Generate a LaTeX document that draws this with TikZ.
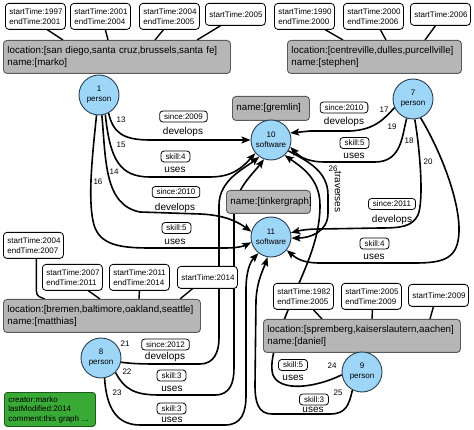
\documentclass[tikz,border=0pt]{standalone}
\usepackage{fontspec}
\setmainfont{Liberation Sans}
\usetikzlibrary{arrows.meta}
\definecolor{vblue}{RGB}{158,214,248}
\definecolor{vborder}{RGB}{40,60,80}
\definecolor{gfill}{RGB}{182,182,182}
\definecolor{gborder}{RGB}{90,90,90}
\definecolor{grfill}{RGB}{58,170,55}
\definecolor{grborder}{RGB}{30,90,30}
\pgfdeclarelayer{bg}
\pgfsetlayers{bg,main}
\begin{document}
\begin{tikzpicture}[x=1pt,y=-1pt,
 prop/.style={draw=black, line width=0.8pt, rounded corners=3.5pt, fill=white, font=\fontsize{8}{9.5}\selectfont, align=left, text width=52pt, inner xsep=4pt, inner ysep=2pt, anchor=north west},
 two/.style={minimum height=26pt},
 one/.style={minimum height=22pt},
 gbox/.style={draw=gborder, line width=0.9pt, rounded corners=3.5pt, fill=gfill, font=\fontsize{9.75}{12.5}\selectfont, align=left, inner xsep=4pt, inner ysep=2pt, anchor=north west},
 vtx/.style={circle, draw=vborder, line width=0.9pt, fill=vblue, minimum size=40pt, inner sep=0pt, align=center, font=\fontsize{8}{10}\selectfont},
 ebox/.style={draw=black, line width=0.8pt, rounded corners=3pt, fill=white, font=\fontsize{8}{9}\selectfont, inner xsep=4.5pt, inner ysep=2.5pt},
 elbl/.style={font=\fontsize{10}{12}\selectfont, inner sep=0pt},
 num/.style={font=\fontsize{8}{9}\selectfont, inner sep=0pt},
 edge/.style={line width=1.6pt, -{Stealth[length=9pt,width=7pt,inset=1.8pt]}},
 tie/.style={line width=1.4pt},
]
\useasboundingbox (0,0) rectangle (474,430);

% property boxes (top)
\node[prop,two] (pa) at (5,3) {startTime:1997\\endTime:2001};
\node[prop,two] (pb) at (70,3) {startTime:2001\\endTime:2004};
\node[prop,two] (pc) at (139,3) {startTime:2004\\endTime:2005};
\node[prop,one] (pd) at (205,3) {startTime:2005};
\node[prop,two] (pe) at (274,3) {startTime:1990\\endTime:2000};
\node[prop,two] (pf) at (343,3) {startTime:2000\\endTime:2006};
\node[prop,one] (pg) at (410,3) {startTime:2006};

% gray property boxes
\node[gbox, text width=219pt, minimum height=33pt] (marko) at (3,40) {location:[san diego,santa cruz,brussels,santa fe]\\name:[marko]};
\node[gbox, text width=166pt, minimum height=33pt] (stephen) at (287,40) {location:[centreville,dulles,purcellville]\\name:[stephen]};
\node[gbox, text width=189pt, minimum height=33pt] (matthias) at (3,299) {location:[bremen,baltimore,oakland,seattle]\\name:[matthias]};
\node[gbox, text width=189pt, minimum height=33pt] (daniel) at (263,319) {location:[spremberg,kaiserslautern,aachen]\\name:[daniel]};
\node[gbox, text width=69pt, minimum height=24pt] (gremlin) at (232,96) {name:[gremlin]};
\node[gbox, text width=76pt, minimum height=23pt] (tinker) at (226,190) {name:[tinkergraph]};

% matthias / daniel property boxes
\node[prop,two] (ma) at (3,232) {startTime:2004\\endTime:2007};
\node[prop,two] (mb) at (42,264) {startTime:2007\\endTime:2011};
\node[prop,two] (mc) at (109,264) {startTime:2011\\endTime:2014};
\node[prop,one] (md) at (177,266) {startTime:2014};
\node[prop,two] (da) at (273,283) {startTime:1982\\endTime:2005};
\node[prop,two] (db) at (341,283) {startTime:2005\\endTime:2009};
\node[prop,one] (dc) at (408,284) {startTime:2009};

% graph meta
\node[draw=grborder, fill=grfill, rounded corners=3pt, line width=0.9pt, font=\fontsize{8}{9.5}\selectfont, align=left, text width=83pt, inner xsep=4pt, minimum height=34pt, anchor=north west] (meta) at (4,392) {creator:marko\\lastModified:2014\\comment:this graph ...};

% vertices
\node[vtx] (v1) at (99,95) {1\\person};
\node[vtx] (v7) at (413,99) {7\\person};
\node[vtx] (v10) at (271,140) {10\\software};
\node[vtx] (v11) at (271,237) {11\\software};
\node[vtx] (v8) at (101,358) {8\\person};
\node[vtx] (v9) at (362,372) {9\\person};

% edge labels
\node[ebox] (b13) at (183.5,116.5) {since:2009};
\node[elbl] (t13) at (183,132) {develops};
\node[ebox] (b15) at (175.5,156.5) {skill:4};
\node[elbl] (t15) at (175,170) {uses};
\node[ebox] (b14) at (176,192) {since:2010};
\node[elbl] (t14) at (175,208) {develops};
\node[ebox] (b16) at (176.5,228) {skill:5};
\node[elbl] (t16) at (175,242) {uses};
\node[ebox] (b17) at (344,107.5) {since:2010};
\node[elbl] (t17) at (344,122) {develops};
\node[ebox] (b19) at (354.5,143) {skill:5};
\node[elbl] (t19) at (354,156) {uses};
\node[ebox] (b18) at (392,204) {since:2011};
\node[elbl] (t18) at (392,220) {develops};
\node[ebox] (b20) at (374.5,243.5) {skill:4};
\node[elbl] (t20) at (374,257) {uses};
\node[ebox] (b21) at (165.5,344.5) {since:2012};
\node[elbl] (t21) at (165,357) {develops};
\node[ebox] (b22) at (171.5,375.5) {skill:3};
\node[elbl] (t22) at (172,389) {uses};
\node[ebox] (b23) at (171.5,408.5) {skill:3};
\node[elbl] (t23) at (172,420) {uses};
\node[ebox] (b24) at (293,365) {skill:5};
\node[elbl] (t24) at (293,378) {uses};
\node[ebox] (b25) at (314,399.5) {skill:3};
\node[elbl] (t25) at (313,410) {uses};
\node[elbl, rotate=-90] (t26) at (338,192) {traverses};

% edge ids
\node[num] (n13) at (121,120) {13};
\node[num] (n15) at (121,145) {15};
\node[num] (n14) at (114,172) {14};
\node[num] (n16) at (98,182) {16};
\node[num] (n17) at (384,110) {17};
\node[num] (n19) at (392,127) {19};
\node[num] (n18) at (409,141) {18};
\node[num] (n20) at (428,162) {20};
\node[num] (n26) at (333,169) {26};
\node[num] (n21) at (125,344) {21};
\node[num] (n22) at (127,372) {22};
\node[num] (n23) at (117,393) {23};
\node[num] (n24) at (332,366) {24};
\node[num] (n25) at (338,393) {25};

\begin{pgfonlayer}{bg}
% property ties
\draw[tie] ([xshift=12pt]pa.south) -- ([xshift=60pt]marko.north west);
\draw[tie] ([xshift=5pt]pb.south) -- ([xshift=105pt]marko.north west);
\draw[tie] ([xshift=-6pt]pc.south) -- ([xshift=152pt]marko.north west);
\draw[tie] ([xshift=-15pt]pd.south) -- ([xshift=194pt]marko.north west);
\draw[tie] ([xshift=21pt]pe.south) -- ([xshift=56pt]stephen.north west);
\draw[tie] ([xshift=7pt]pf.south) -- ([xshift=99pt]stephen.north west);
\draw[tie] ([xshift=-5pt]pg.south) -- ([xshift=138pt]stephen.north west);
\draw[tie] ([xshift=3pt]ma.south) -- ++(0,32) .. controls +(0,6) and +(-5,-2) .. ([xshift=42pt]matthias.north west);
\draw[tie] ([xshift=16pt]mb.south) -- ([xshift=97pt]matthias.north west);
\draw[tie] ([xshift=0pt]mc.south) -- ([xshift=136pt]matthias.north west);
\draw[tie] ([xshift=-15pt]md.south) -- ([xshift=177pt]matthias.north west);
\draw[tie] ([xshift=10pt]da.south) -- ([xshift=59pt]daniel.north west);
\draw[tie] ([xshift=1pt]db.south) -- ([xshift=109pt]daniel.north west);
\draw[tie] ([xshift=-5pt]dc.south) -- ([xshift=167pt]daniel.north west);

% edges from 1
\draw[edge] (v1.-62) .. controls (113,132) and (122,140) .. (150,140) -- (v10.west);
\draw[edge] (v1.-72) .. controls (110,160) and (120,177) .. (150,177) -- (210,177) .. controls (232,177) and (242,168) .. (v10.-140);
\draw[edge] (v1.-82) .. controls (106,160) and (104,205) .. (140,212) -- (200,214) .. controls (225,215) and (238,222) .. (v11.165);
\draw[edge] (v1.-97) .. controls (93,150) and (87,200) .. (94,225) .. controls (100,245) and (120,248) .. (150,248) -- (225,248) .. controls (238,248) and (244,246) .. (v11.195);
% edges from 7
\draw[edge] (v7.205) .. controls (385,118) and (375,130) .. (350,131) -- (310,131) -- (v10.20);
\draw[edge] (v7.-108) .. controls (402,135) and (402,162) .. (375,162) -- (325,162) .. controls (305,162) and (298,155) .. (v10.-20);
\draw[edge] (v7.-85) .. controls (420,150) and (424,200) .. (418,215) .. controls (412,227) and (400,228) .. (380,228) -- (320,229) .. controls (305,229) and (298,231) .. (v11.12);
\draw[edge] (v7.-68) .. controls (440,150) and (460,200) .. (459,232) .. controls (458,258) and (445,263) .. (415,263) -- (320,263) .. controls (302,263) and (296,258) .. (v11.-40);
% traverses
\draw[edge] (v10.-32) .. controls (305,160) and (328,170) .. (328,195) -- (328,213) .. controls (328,232) and (310,238) .. (v11.-3);
% edges from 9
\draw[edge] (v9.188) .. controls (315,388) and (280,392) .. (273,375) .. controls (268,360) and (280,330) .. (292,300) .. controls (305,268) and (320,240) .. (320,205) .. controls (320,178) and (300,166) .. (v10.-48);
\draw[edge] (v9.-118) .. controls (349,405) and (346,414) .. (330,414) -- (272,414) .. controls (258,414) and (255,402) .. (255,385) -- (256,300) .. controls (257,280) and (264,268) .. (v11.-100);
% edges from 8
\draw[edge] (v8.-12) .. controls (135,364) and (145,364) .. (160,364) -- (200,364) .. controls (214,364) and (219,352) .. (219,338) -- (219,205) .. controls (219,180) and (245,168) .. (v10.-125);
\draw[edge] (v8.-45) .. controls (125,390) and (135,395) .. (160,395) -- (215,395) .. controls (230,395) and (234,383) .. (234,368) -- (234,215) .. controls (234,190) and (252,175) .. (v10.-110);
\draw[edge] (v8.-80) .. controls (106,400) and (112,425) .. (140,425) -- (225,425) .. controls (242,425) and (246,412) .. (246,395) -- (246,290) .. controls (246,272) and (250,262) .. (v11.-128);
\end{pgfonlayer}
\end{tikzpicture}
\end{document}
